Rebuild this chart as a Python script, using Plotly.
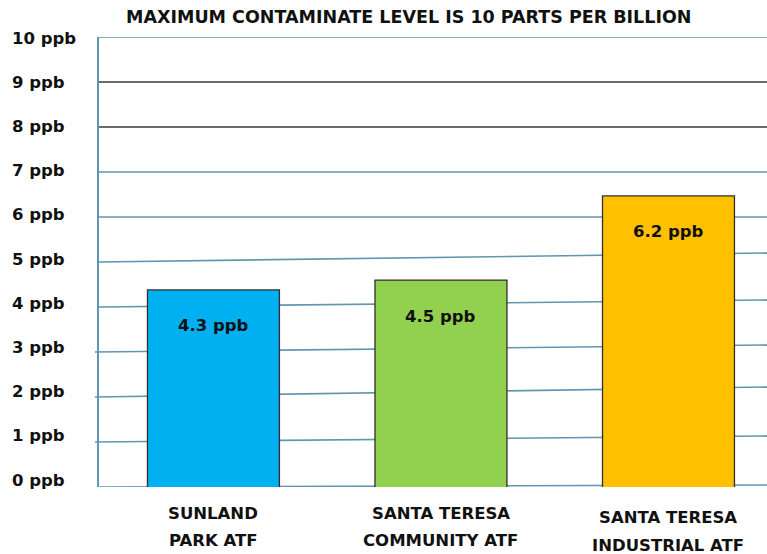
import plotly.graph_objects as go

# ---- data ----
categories = ["SUNLAND<br>PARK ATF", "SANTA TERESA<br>COMMUNITY ATF", "SANTA TERESA<br>INDUSTRIAL ATF"]
values = [4.3, 4.5, 6.2]
value_labels = ["4.3 ppb", "4.5 ppb", "6.2 ppb"]
bar_colors = ["#00B0F0", "#92D050", "#FFC000"]
tick_values = [0, 1, 2, 3, 4, 5, 6, 7, 8, 9, 10]
tick_labels = ["0 ppb", "1 ppb", "2 ppb", "3 ppb", "4 ppb", "5 ppb", "6 ppb", "7 ppb", "8 ppb", "9 ppb", "10 ppb"]
title_text = "MAXIMUM CONTAMINATE LEVEL IS 10 PARTS PER BILLION"

# ---- styles ----
FONT = "DejaVu Sans, Verdana, sans-serif"
TEAL = "#6096B0"
DARK = "#3A3A3A"
TXT = "#111111"
W, H = 767, 554
L, R, T, B = 99, 0, 37, 67
plot_h = H - T - B
plot_w = W - L - R
# drawn slant (rise in px from left to right) of the hand-drawn grid lines
grid_tilt_px = {0: 2, 1: 6, 2: 10, 3: 7, 4: 7, 5: 9, 6: 0, 7: 0, 8: 0, 9: 0, 10: 0}
grid_color = {8: DARK, 9: DARK}
cat_line_shift = [(-26, -53), (-26, -53), (-30, -58)]

fig = go.Figure()
fig.add_trace(go.Bar(
    x=[0, 1, 2], y=values, yaxis="y2",
    marker=dict(color=bar_colors, line=dict(color="#2F2F2F", width=1.3)),
    width=0.58, hoverinfo="skip", showlegend=False,
))

shapes = []
for v in tick_values:
    tilt = grid_tilt_px[v] * 10 / plot_h
    shapes.append(dict(
        type="line", xref="paper", yref="y", layer="below",
        x0=-0.006 if v in (1, 2, 3) else 0, x1=1, y0=v, y1=v + tilt,
        line=dict(color=grid_color.get(v, TEAL), width=1.6),
    ))

annotations = []
for v, lab in zip(tick_values, tick_labels):
    annotations.append(dict(
        text=lab, xref="paper", yref="y", x=-(L - 10) / plot_w, y=v,
        xanchor="left", yanchor="middle", showarrow=False,
        yshift=7 - 0.8 * v,
        font=dict(family=FONT, size=16.5, color=TXT),
    ))
for i, (v, lab) in enumerate(zip(values, value_labels)):
    annotations.append(dict(
        text=lab, x=i, y=v, xref="x", yref="y2", yshift=-36,
        showarrow=False, xanchor="center", yanchor="middle",
        font=dict(family=FONT, size=16.5, color=TXT),
    ))
for i, cat in enumerate(categories):
    for line, shift in zip(cat.split("<br>"), cat_line_shift[i]):
        annotations.append(dict(
            text=line, x=i, y=0, xref="x", yref="paper", yshift=shift,
            showarrow=False, xanchor="center", yanchor="middle",
            font=dict(family=FONT, size=16.5, color=TXT),
        ))
annotations.append(dict(
    text=title_text, xref="paper", yref="paper",
    x=(408 - L) / plot_w, y=1 + (T - 17) / plot_h,
    xanchor="center", yanchor="middle", showarrow=False,
    font=dict(family=FONT, size=17.5, color=TXT),
))

fig.update_layout(
    width=W, height=H,
    margin=dict(l=L, r=R, t=T, b=B, pad=0, autoexpand=False),
    paper_bgcolor="white", plot_bgcolor="white",
    font=dict(family=FONT, size=17, color=TXT),
    xaxis=dict(
        range=[-0.503, 2.433], showgrid=False, zeroline=False, showline=False,
        ticks="", showticklabels=False,
    ),
    yaxis=dict(
        range=[0, 10], showgrid=False, zeroline=False, showticklabels=False,
        showline=True, linecolor=TEAL, linewidth=1.6, ticks="",
    ),
    yaxis2=dict(
        range=[0.32, 9.41], overlaying="y", visible=False,
    ),
    shapes=shapes,
    annotations=annotations,
)
for a in fig.layout.annotations:
    a.text = "<b>" + a.text + "</b>"

fig.write_html(
    "out.html",
    config={"displayModeBar": False},
    post_script="document.body.style.margin='0';document.body.style.overflow='hidden';",
)
